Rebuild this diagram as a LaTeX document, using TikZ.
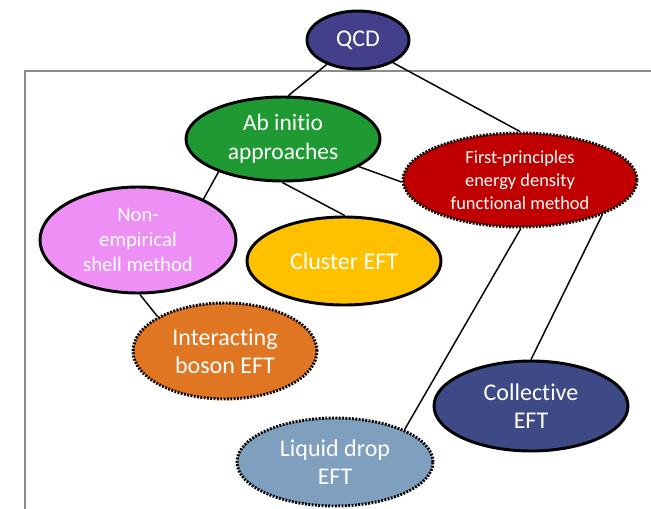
\documentclass[tikz,border=0pt]{standalone}
\usepackage{fontspec}
\setmainfont{Carlito}[Ligatures={NoCommon}]
\usetikzlibrary{shapes.geometric}
\definecolor{azulQCD}{HTML}{433F8B}
\definecolor{verdeAb}{HTML}{1F9A33}
\definecolor{rojoFP}{HTML}{C00000}
\definecolor{rosaNon}{HTML}{EE8FF6}
\definecolor{oroCluster}{HTML}{FFC000}
\definecolor{naranjaIB}{HTML}{E07622}
\definecolor{azulColl}{HTML}{3D4A86}
\definecolor{azulLD}{HTML}{7F9FBE}
\definecolor{grisMarco}{HTML}{8C8C8C}

\begin{document}
\begin{tikzpicture}[x=0.75pt, y=-0.75pt,
        mth/.style={ellipse, draw=black, line width=2.2pt, text=white, align=center,
            inner sep=0pt, font=\fontsize{18}{20.8}\selectfont},
        mthx/.style={mth, dash pattern=on 1.4pt off 1.1pt},
        lnk/.style={black, line width=1.1pt}
    ]
        \useasboundingbox (0,0) rectangle (651,508);
        \draw[grisMarco, line width=2.2pt] (25,510) -- (25,71) -- (653,71);

        \node[mth, fill=azulQCD, minimum width=76.5pt, minimum height=43.5pt] (qcd) at (358,40) {QCD};
        \node[mth, fill=verdeAb, minimum width=145.5pt, minimum height=63pt,
            font=\fontsize{17.6}{22}\selectfont] (abin) at (283,139) {Ab initio\\approaches};
        \node[mthx, fill=rojoFP, minimum width=175.5pt, minimum height=70.5pt,
            font=\fontsize{13.8}{17.3}\selectfont] (fp) at (520,180) {First-principles\\energy density\\functional method};
        \node[mth, fill=rosaNon, minimum width=147pt, minimum height=79.5pt,
            font=\fontsize{15.5}{19}\selectfont] (nonemp) at (138,240) {Non-\\empirical\\shell method};
        \node[mth, fill=oroCluster, minimum width=145.5pt, minimum height=66pt] (clus) at (344,261) {Cluster EFT};
        \node[mthx, fill=naranjaIB, minimum width=138pt, minimum height=72pt] (ibm) at (225,351) {Interacting\\boson EFT};
        \node[mth, fill=azulColl, minimum width=145.5pt, minimum height=67.5pt] (coll) at (531,406) {Collective\\EFT};
        \node[mthx, fill=azulLD, minimum width=147pt, minimum height=66pt] (ldrop) at (335,462) {Liquid drop\\EFT};

        \draw[lnk] (qcd.218) -- (abin.83);
        \draw[lnk] (qcd.-33) -- (fp.90);
        \draw[lnk] (abin.207) -- (nonemp.32);
        \draw[lnk] (abin.269) -- (clus.89);
        \draw[lnk] (abin.340) -- (fp.181);
        \draw[lnk] (nonemp.272) -- (ibm.153);
        \draw[lnk] (fp.271) -- (ldrop.25);
        \draw[lnk] (fp.337) -- (coll.90);
    \end{tikzpicture}
\end{document}
